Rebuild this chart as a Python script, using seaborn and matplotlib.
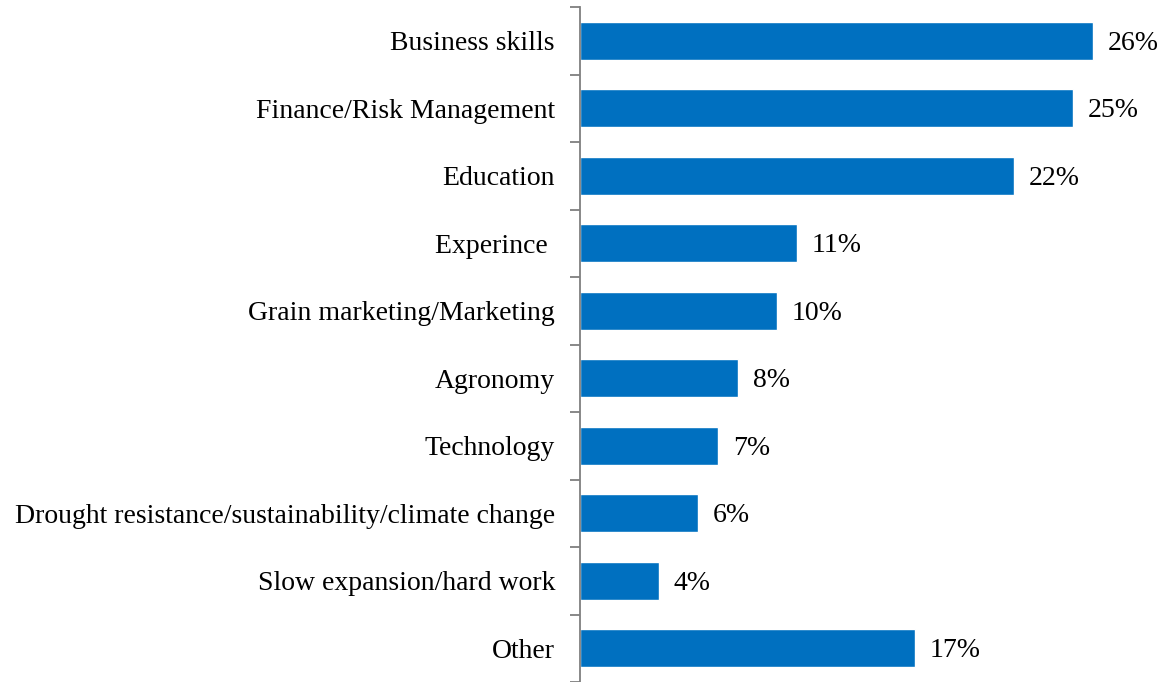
import matplotlib
matplotlib.use("Agg")
import matplotlib.pyplot as plt
import seaborn as sns
import pandas as pd
import numpy as np

categories = [
    "Business skills",
    "Finance/Risk Management",
    "Education",
    "Experince ",
    "Grain marketing/Marketing",
    "Agronomy",
    "Technology",
    "Drought resistance/sustainability/climate change",
    "Slow expansion/hard work",
    "Other",
]
values = [26, 25, 22, 11, 10, 8, 7, 6, 4, 17]
value_labels = ["26%", "25%", "22%", "11%", "10%", "8%", "7%", "6%", "4%", "17%"]

sns.set_theme(style="white")
plt.rcParams["font.family"] = ["Liberation Serif", "DejaVu Serif"]

df = pd.DataFrame({"category": categories, "value": values})

fig = plt.figure(figsize=(11.63, 6.82), dpi=100)
ax = fig.add_axes([580 / 1163, 0.0, 572 / 1163, 675 / 682])

sns.barplot(data=df, x="value", y="category", orient="h", color="#0070C0",
            saturation=1, width=0.56, ax=ax)

ax.set_xlim(0, 29)
ax.set_ylim(len(categories) - 0.5, -0.5)
ax.set_xlabel("")
ax.set_ylabel("")
ax.set_xticks([])

for s in ["top", "right", "bottom"]:
    ax.spines[s].set_visible(False)
ax.spines["left"].set_color("#7f7f7f")
ax.spines["left"].set_linewidth(1.3)

ax.set_yticks(np.arange(len(categories)))
ax.set_yticklabels(categories, fontsize=20, color="black")
ax.tick_params(axis="y", which="major", length=0, pad=18)
ax.set_yticks(np.arange(len(categories) + 1) - 0.5, minor=True)
ax.tick_params(axis="y", which="minor", length=7, width=1.3, color="#7f7f7f",
               direction="out", left=True)

for bar, lab in zip(ax.patches, value_labels):
    ax.text(bar.get_width() + 0.75, bar.get_y() + bar.get_height() / 2 + 0.04, lab,
            va="center", ha="left", fontsize=20, color="black")

for t in ax.get_yticklabels():
    t.set_y(t.get_position()[1])

fig.savefig("out.png", dpi=100)
